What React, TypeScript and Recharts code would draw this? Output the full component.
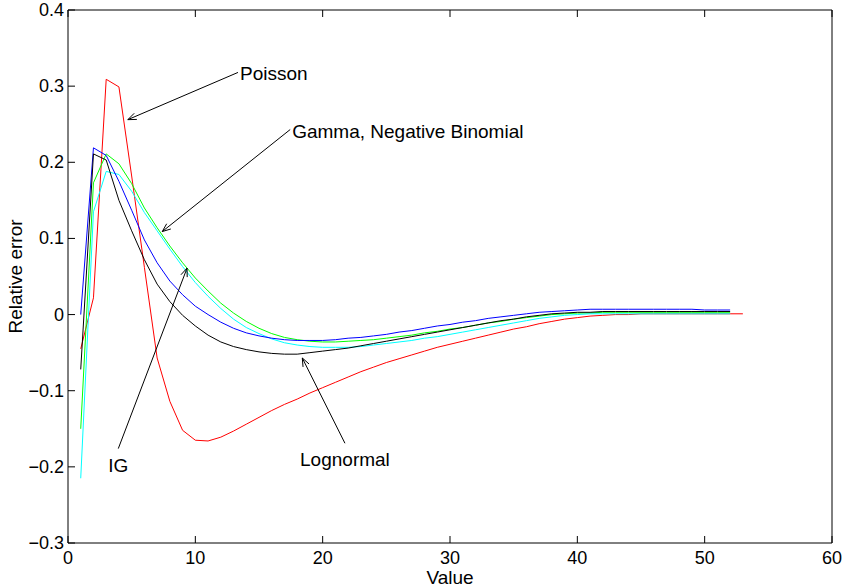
import {
  LineChart,
  Line,
  XAxis,
  YAxis,
  ReferenceLine,
} from 'recharts';

const xValues = Array.from({ length: 53 }, (_, i) => i + 1);

const poisson = [
  -0.045, 0.022, 0.309, 0.299, 0.182, 0.062, -0.057, -0.114, -0.152, -0.165,
  -0.166, -0.161, -0.153, -0.144, -0.135, -0.126, -0.118, -0.111, -0.103, -0.096,
  -0.089, -0.082, -0.075, -0.069, -0.063, -0.058, -0.053, -0.048, -0.043, -0.039,
  -0.035, -0.031, -0.027, -0.023, -0.019, -0.016, -0.012, -0.009, -0.006, -0.004,
  -0.002, -0.001, 0, 0, 0.001, 0.001, 0.001, 0.001, 0.001, 0.001,
  0.001, 0.001, 0.001,
];

const gamma = [
  -0.15, 0.173, 0.211, 0.198, 0.172, 0.14, 0.114, 0.09, 0.068, 0.048,
  0.031, 0.015, 0.002, -0.009, -0.018, -0.025, -0.03, -0.033, -0.035, -0.036,
  -0.036, -0.035, -0.034, -0.033, -0.031, -0.029, -0.027, -0.024, -0.022, -0.019,
  -0.017, -0.014, -0.011, -0.009, -0.006, -0.004, -0.002, 0, 0.001, 0.002,
  0.002, 0.003, 0.003, 0.003, 0.003, 0.003, 0.003, 0.003, 0.003, 0.003,
  0.003, 0.003,
];

const negBinomial = [
  -0.215, 0.135, 0.188, 0.184, 0.162, 0.134, 0.11, 0.086, 0.063, 0.042,
  0.024, 0.008, -0.006, -0.017, -0.025, -0.032, -0.037, -0.04, -0.042, -0.043,
  -0.043, -0.043, -0.042, -0.04, -0.038, -0.036, -0.034, -0.031, -0.029, -0.026,
  -0.023, -0.02, -0.017, -0.014, -0.011, -0.008, -0.005, -0.003, -0.001, 0,
  0.001, 0.001, 0.001, 0.001, 0.001, 0.001, 0.001, 0.001, 0.001, 0.001,
  0.001, 0.001,
];

const ig = [
  0.0, 0.219, 0.209, 0.175, 0.137, 0.098, 0.068, 0.044, 0.026, 0.011,
  0.0, -0.01, -0.018, -0.024, -0.028, -0.031, -0.033, -0.034, -0.034, -0.034,
  -0.033, -0.031, -0.03, -0.028, -0.026, -0.023, -0.021, -0.018, -0.015, -0.013,
  -0.01, -0.008, -0.005, -0.003, -0.001, 0.001, 0.003, 0.004, 0.005, 0.006,
  0.007, 0.007, 0.007, 0.007, 0.007, 0.007, 0.007, 0.007, 0.007, 0.006,
  0.006, 0.006,
];

const lognormal = [
  -0.072, 0.211, 0.203, 0.15, 0.11, 0.072, 0.04, 0.017, -0.001, -0.015,
  -0.027, -0.036, -0.042, -0.046, -0.049, -0.051, -0.052, -0.052, -0.05, -0.048,
  -0.046, -0.044, -0.041, -0.038, -0.035, -0.032, -0.029, -0.026, -0.023, -0.02,
  -0.017, -0.014, -0.011, -0.008, -0.006, -0.003, -0.001, 0.001, 0.002, 0.003,
  0.003, 0.004, 0.004, 0.004, 0.004, 0.004, 0.004, 0.004, 0.004, 0.004,
  0.004, 0.004,
];

const xTicks = [0, 10, 20, 30, 40, 50, 60];
const yTicks = [-0.3, -0.2, -0.1, 0, 0.1, 0.2, 0.3, 0.4];

// text label, start of the arrow line (near the text), arrow tip, where the text sits
const annotations = [
  { label: 'Poisson', from: [13.35, 0.318], to: [4.7, 0.256], place: 'right' },
  { label: 'Gamma, Negative Binomial', from: [17.45, 0.243], to: [7.4, 0.109], place: 'right' },
  { label: 'IG', from: [3.95, -0.176], to: [9.35, 0.061], place: 'below' },
  { label: 'Lognormal', from: [21.75, -0.169], to: [18.4, -0.057], place: 'below' },
];

const data = xValues.map((x, i) => ({
  x,
  poisson: poisson[i],
  gamma: gamma[i],
  negBinomial: negBinomial[i],
  ig: ig[i],
  lognormal: lognormal[i],
}));

const FONT = '"Liberation Sans", Arial, Helvetica, sans-serif';

const fmt = (v: number) => {
  const r = Math.round(v * 10) / 10;
  if (r === 0) return '0';
  return r < 0 ? `\u2212${Math.abs(r)}` : `${r}`;
};

const BottomTick = ({ x, y, payload }: any) => (
  <g>
    <line x1={x} y1={y} x2={x} y2={y - 7} stroke='#000' />
    <text x={x} y={y + 21} textAnchor='middle' fontSize={18} fontFamily={FONT} fill='#000'>
      {payload.value}
    </text>
  </g>
);

const TopTick = ({ x, y }: any) => (
  <line x1={x} y1={y} x2={x} y2={y + 7} stroke='#000' />
);

const LeftTick = ({ x, y, payload }: any) => (
  <g>
    <line x1={x} y1={y} x2={x + 7} y2={y} stroke='#000' />
    <text x={x - 4} y={y + 6} textAnchor='end' fontSize={18} fontFamily={FONT} fill='#000'>
      {fmt(payload.value)}
    </text>
  </g>
);

const RightTick = ({ x, y }: any) => (
  <line x1={x} y1={y} x2={x - 7} y2={y} stroke='#000' />
);

const makeArrow = (label: string, place: string) => (props: any) => {
  const { x1, y1, x2, y2 } = props;
  const ang = Math.atan2(y2 - y1, x2 - x1);
  const len = 9;
  const spread = 0.38;
  const ax = x2 - len * Math.cos(ang - spread);
  const ay = y2 - len * Math.sin(ang - spread);
  const bx = x2 - len * Math.cos(ang + spread);
  const by = y2 - len * Math.sin(ang + spread);
  const tx = place === 'right' ? x1 + 2 : x1;
  const ty = place === 'right' ? y1 + 8 : y1 + 23;
  return (
    <g>
      <line x1={x1} y1={y1} x2={x2} y2={y2} stroke='#000' strokeWidth={1} />
      <polyline points={`${ax},${ay} ${x2},${y2} ${bx},${by}`} fill='none' stroke='#000' strokeWidth={1} />
      <text
        x={tx}
        y={ty}
        textAnchor={place === 'right' ? 'start' : 'middle'}
        fontSize={19}
        fontFamily={FONT}
        fill='#000'
      >
        {label}
      </text>
    </g>
  );
};

export default function App() {
  return (
    <div style={{ position: 'absolute', left: 0, top: 0, background: '#fff' }}>
      <LineChart
        width={844}
        height={587}
        data={data}
        margin={{ top: 0, right: 0, bottom: 14, left: 0 }}
      >
        <XAxis
          dataKey='x'
          type='number'
          domain={[0, 60]}
          ticks={xTicks}
          interval={0}
          height={30}
          tickSize={0}
          tickMargin={0}
          tickLine={false}
          tick={<BottomTick />}
          axisLine={{ stroke: '#000' }}
          label={{ value: 'Value', position: 'insideBottom', offset: -11, fontSize: 19, fontFamily: FONT, fill: '#000' }}
        />
        <XAxis
          xAxisId='top'
          orientation='top'
          dataKey='x'
          type='number'
          domain={[0, 60]}
          ticks={xTicks}
          interval={0}
          height={10}
          tickSize={0}
          tickMargin={0}
          tickLine={false}
          tick={<TopTick />}
          axisLine={{ stroke: '#000' }}
        />
        <YAxis
          type='number'
          domain={[-0.3, 0.4]}
          ticks={yTicks}
          interval={0}
          width={68}
          tickSize={0}
          tickMargin={0}
          tickLine={false}
          tick={<LeftTick />}
          axisLine={{ stroke: '#000' }}
          label={{ value: 'Relative error', angle: -90, position: 'insideLeft', offset: 15, style: { textAnchor: 'middle' }, fontSize: 19, fontFamily: FONT, fill: '#000' }}
        />
        <YAxis
          yAxisId='right'
          orientation='right'
          type='number'
          domain={[-0.3, 0.4]}
          ticks={yTicks}
          interval={0}
          width={12}
          tickSize={0}
          tickMargin={0}
          tickLine={false}
          tick={<RightTick />}
          axisLine={{ stroke: '#000' }}
        />
        <Line dataKey='poisson' stroke='#ff0000' strokeWidth={1} dot={false} isAnimationActive={false} />
        <Line dataKey='gamma' stroke='#00ff00' strokeWidth={1} dot={false} isAnimationActive={false} />
        <Line dataKey='negBinomial' stroke='#00ffff' strokeWidth={1} dot={false} isAnimationActive={false} />
        <Line dataKey='ig' stroke='#0000ff' strokeWidth={1} dot={false} isAnimationActive={false} />
        <Line dataKey='lognormal' stroke='#000000' strokeWidth={1} dot={false} isAnimationActive={false} />
        {annotations.map((a) => (
          <ReferenceLine
            key={a.label}
            segment={[
              { x: a.from[0], y: a.from[1] },
              { x: a.to[0], y: a.to[1] },
            ]}
            ifOverflow='visible'
            shape={makeArrow(a.label, a.place)}
          />
        ))}
      </LineChart>
    </div>
  );
}
